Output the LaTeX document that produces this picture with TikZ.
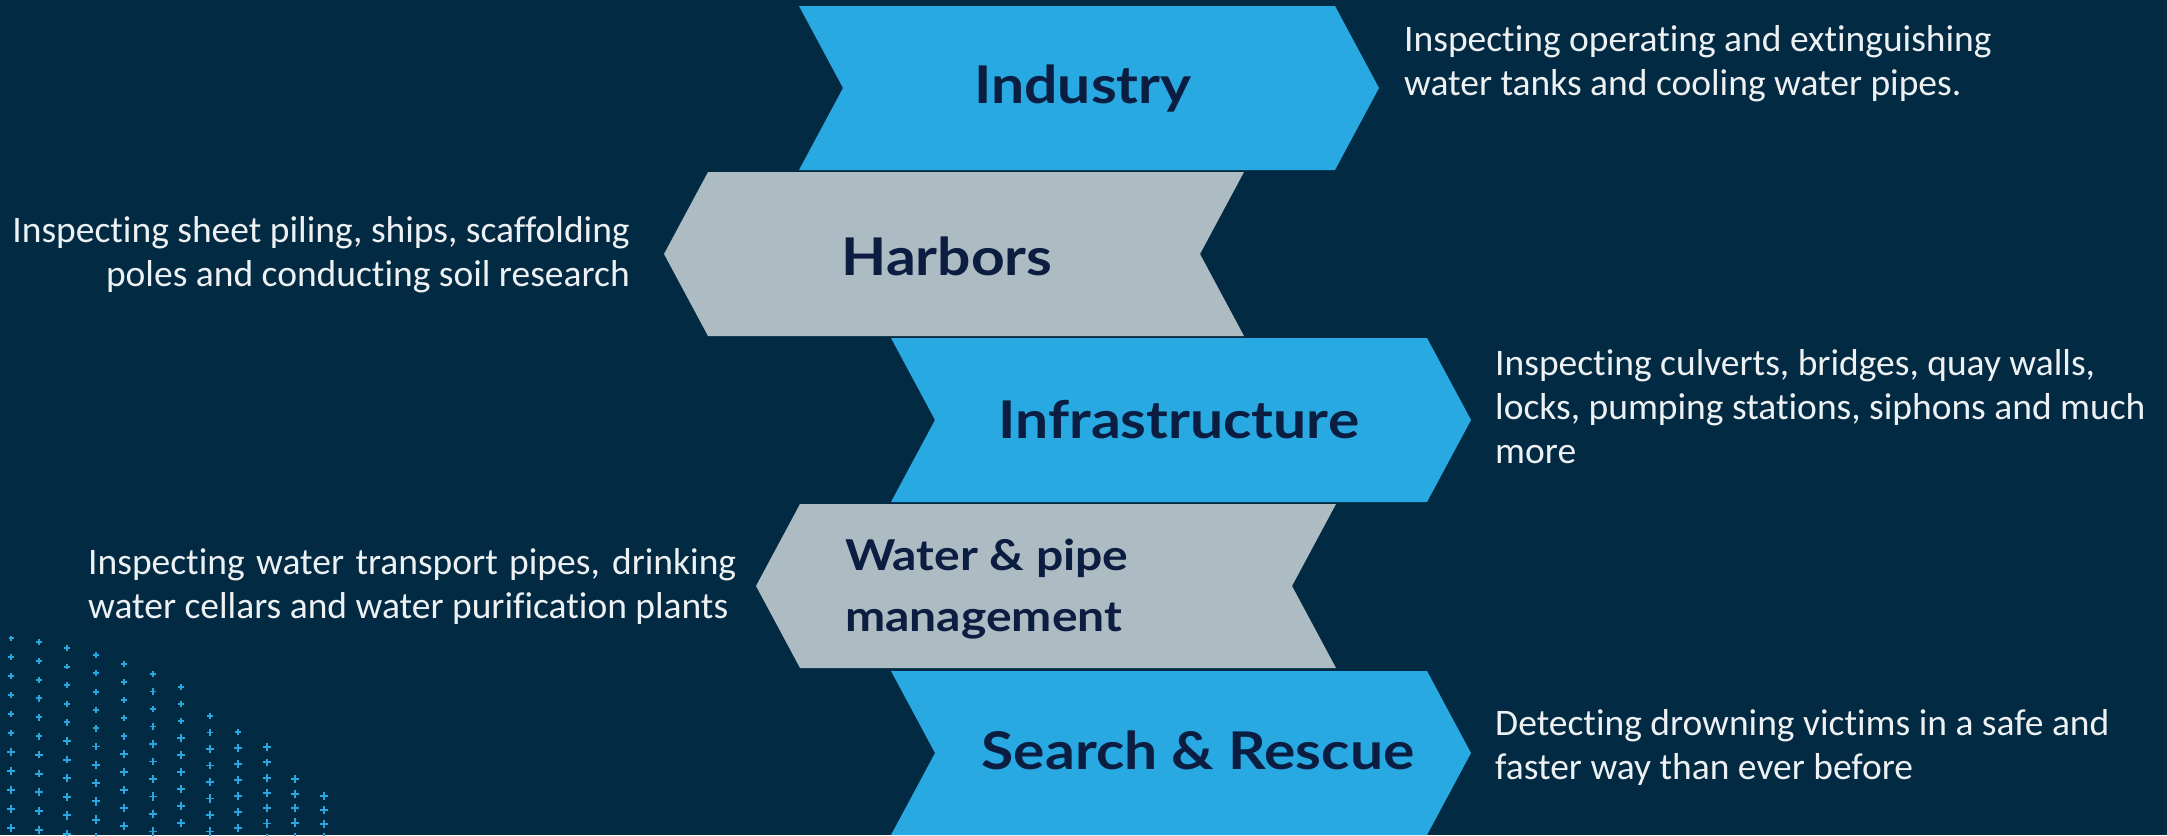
\documentclass[tikz,border=0pt]{standalone}
\usepackage{fontspec}
\setmainfont{Carlito}[Ligatures=NoCommon]
\newfontfamily\labelfont{Lato}[FakeStretch=1.13]
\definecolor{navybg}{HTML}{022A42}
\definecolor{chevblue}{HTML}{29A9E1}
\definecolor{chevgrey}{HTML}{ADBBC2}
\definecolor{labelink}{HTML}{0B1D40}
\definecolor{descink}{HTML}{EEF1F3}
\definecolor{plusblue}{HTML}{27A6DF}

% chevrons, #1/#2 = top left corner, #3 = colour
\newcommand{\chevright}[3]{\fill[#3] (#1,#2) -- ++(536,0) -- ++(44,82) -- ++(-44,82) -- ++(-536,0) -- ++(44,-82) -- cycle;}
\newcommand{\chevleft}[3]{\fill[#3] (#1,#2) -- ++(536,0) -- ++(-44,82) -- ++(44,82) -- ++(-536,0) -- ++(-44,-82) -- cycle;}

\begin{document}
\begin{tikzpicture}[x=1pt, y=-1pt,
    chevlabel/.style={font=\labelfont\bfseries\fontsize{52}{61}\selectfont, text=labelink, inner sep=0pt},
    desc/.style={font=\fontsize{37.5}{44}\selectfont, text=descink, inner sep=0pt},
    plusmark/.style={plusblue, line width=1.9pt}]
    \useasboundingbox (0,0) rectangle (2167,835);
    \fill[navybg] (0,0) rectangle (2167,835);

    % the five chevrons
    \chevright{799}{6}{chevblue}
    \chevleft{708}{172}{chevgrey}
    \chevright{891}{338}{chevblue}
    \chevleft{800}{504}{chevgrey}
    \chevright{891}{671}{chevblue}

    \node[chevlabel, anchor=base] (industry) at (1083,103) {Industry};
    \node[chevlabel, anchor=base] (harbors) at (947,275) {Harbors};
    \node[chevlabel, anchor=base] (infra) at (1179,438) {Infrastructure};
    \node[chevlabel, font=\labelfont\bfseries\fontsize{42.5}{61}\selectfont, anchor=base west, align=left] (water) at (845,631) {Water \& pipe\\management};
    \node[chevlabel, anchor=base] (rescue) at (1198,769) {Search \& Rescue};

    % base anchor sits on the last line
    \node[desc, anchor=base west, align=left] (industrytxt) at (1404,95) {Inspecting operating and extinguishing\\water tanks and cooling water pipes.};
    \node[desc, anchor=base east, align=right] (harborstxt) at (630,286) {Inspecting sheet piling, ships, scaffolding\\poles and conducting soil research};
    \node[desc, anchor=base west, align=left] (infratxt) at (1495,463) {Inspecting culverts, bridges, quay walls,\\locks, pumping stations, siphons and much\\more};
    \node[desc, anchor=base west, align=left] (watertxt) at (88,618) {\makebox[648pt][s]{Inspecting water transport pipes, drinking}\\water cellars and water purification plants};
    \node[desc, anchor=base west, align=left] (rescuetxt) at (1495,779) {Detecting drowning victims in a safe and\\faster way than ever before};

    % plus pattern bottom left
    \foreach \cx/\ct/\cd in {11/638/19, 39/642/18.8, 67/648/18.6, 96/655/18.3, 124/664/18, 153/674/17.5, 181/687/17, 210/716/16.5, 238/732/16, 267/747/15.3, 295/779/14.6, 324/796/14}{
        \pgfmathtruncatemacro\nrows{(839-\ct)/\cd}
        \foreach \k in {0,...,\nrows}{
            \pgfmathsetmacro\yy{\ct+\k*\cd}
            \pgfmathsetmacro\plussize{2.5+2*(\yy-638)/197}
            \draw[plusmark] (\cx-\plussize,\yy) -- (\cx+\plussize,\yy) (\cx,\yy-\plussize) -- (\cx,\yy+\plussize);
        }
    }
\end{tikzpicture}
\end{document}
